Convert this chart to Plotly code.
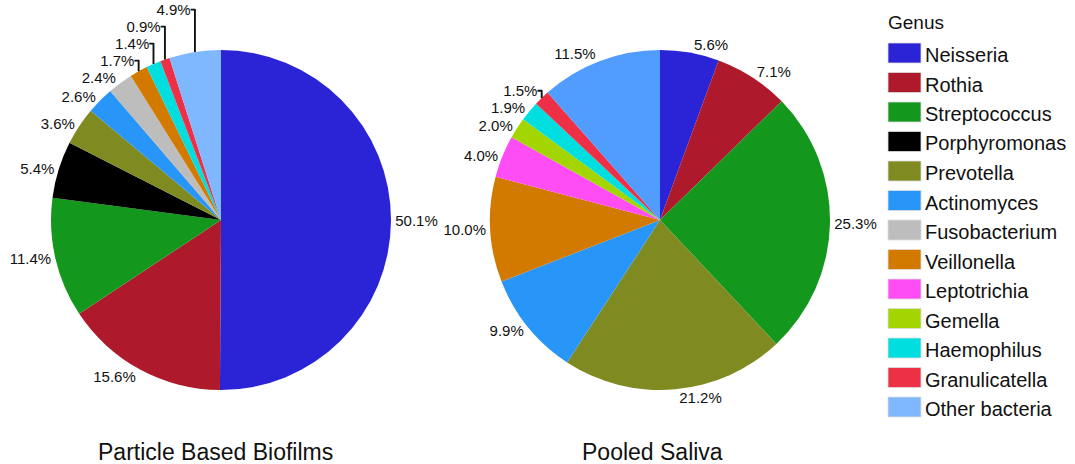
import plotly.graph_objects as go

# Genus composition (percent of reads) for the two sample types
genera = ["Neisseria", "Rothia", "Streptococcus", "Porphyromonas", "Prevotella",
          "Actinomyces", "Fusobacterium", "Veillonella", "Leptotrichia", "Gemella",
          "Haemophilus", "Granulicatella", "Other bacteria"]
biofilm_pct = [50.1, 15.6, 11.4, 5.4, 3.6, 2.6, 2.4, 1.7, 0.0, 0.0, 1.4, 0.9, 4.9]
saliva_pct = [5.6, 7.1, 25.3, 0.0, 21.2, 9.9, 0.0, 10.0, 4.0, 2.0, 1.9, 1.5, 11.5]

genus_colors = ["#2B24D6", "#AE1A2C", "#13981D", "#000000", "#7F8B21",
                "#2896F8", "#BDBDBD", "#D27A00", "#FF4DF5", "#A3D600",
                "#00DEE0", "#EE3047", "#80B8FF"]
saliva_colors = genus_colors[:-1] + ["#509CFF"]

panel_titles = ["Particle Based Biofilms", "Pooled Saliva"]

W, H = 1075, 464
FONT = "Liberation Sans, Arial, Helvetica, sans-serif"


def px_x(x):
    return x / W


def px_y(y):
    return 1 - y / H


def nonzero(values, colors):
    keep = [i for i, v in enumerate(values) if v > 0]
    return ([genera[i] for i in keep], [values[i] for i in keep],
            [colors[i] for i in keep])


# pie boxes: centre (cx, cy), radius r, in pixels
pie_boxes = [(221, 220, 170), (660, 220, 170)]

fig = go.Figure()
for values, colors, (cx, cy, r) in [(biofilm_pct, genus_colors, pie_boxes[0]),
                                    (saliva_pct, saliva_colors, pie_boxes[1])]:
    labs, vals, cols = nonzero(values, colors)
    dom = dict(x=[px_x(cx - r), px_x(cx + r)], y=[px_y(cy + r), px_y(cy - r)])
    fig.add_trace(go.Pie(
        labels=labs, values=vals, sort=False, direction="clockwise", rotation=0,
        marker=dict(colors=cols, line=dict(width=0)),
        texttemplate="%{value:.1f}%", textposition="outside",
        outsidetextfont=dict(size=15, color="#111111", family=FONT),
        showlegend=False, domain=dom, hoverinfo="label+value",
    ))

annotations = []
shapes = []
# panel titles
for title, xc in zip(panel_titles, [215, 652]):
    annotations.append(dict(text=title, x=px_x(xc), y=px_y(452), xref="paper", yref="paper",
                            showarrow=False, xanchor="center", yanchor="middle",
                            font=dict(size=23, color="#111111", family=FONT)))

# genus legend drawn as swatches with labels
annotations.append(dict(text="Genus", x=px_x(886), y=px_y(23), xref="paper", yref="paper",
                        showarrow=False, xanchor="left", yanchor="middle",
                        font=dict(size=19, color="#111111", family=FONT)))
row0, step = 53, 29.5
for i, (g, c) in enumerate(zip(genera, genus_colors)):
    yc = row0 + i * step
    shapes.append(dict(type="rect", xref="paper", yref="paper",
                       x0=px_x(888), x1=px_x(921), y0=px_y(yc - 10), y1=px_y(yc + 10),
                       fillcolor=c, line=dict(color="#DDDDDD", width=0.8)))
    annotations.append(dict(text=g, x=px_x(923), y=px_y(yc + 2), xref="paper", yref="paper",
                            showarrow=False, xanchor="left", yanchor="middle",
                            font=dict(size=20, color="#111111", family=FONT)))

fig.update_layout(width=W, height=H,
                  margin=dict(l=0, r=0, t=0, b=0, pad=0, autoexpand=False),
                  paper_bgcolor="white", plot_bgcolor="white",
                  annotations=annotations, shapes=shapes)

fig.write_html("out.html")
